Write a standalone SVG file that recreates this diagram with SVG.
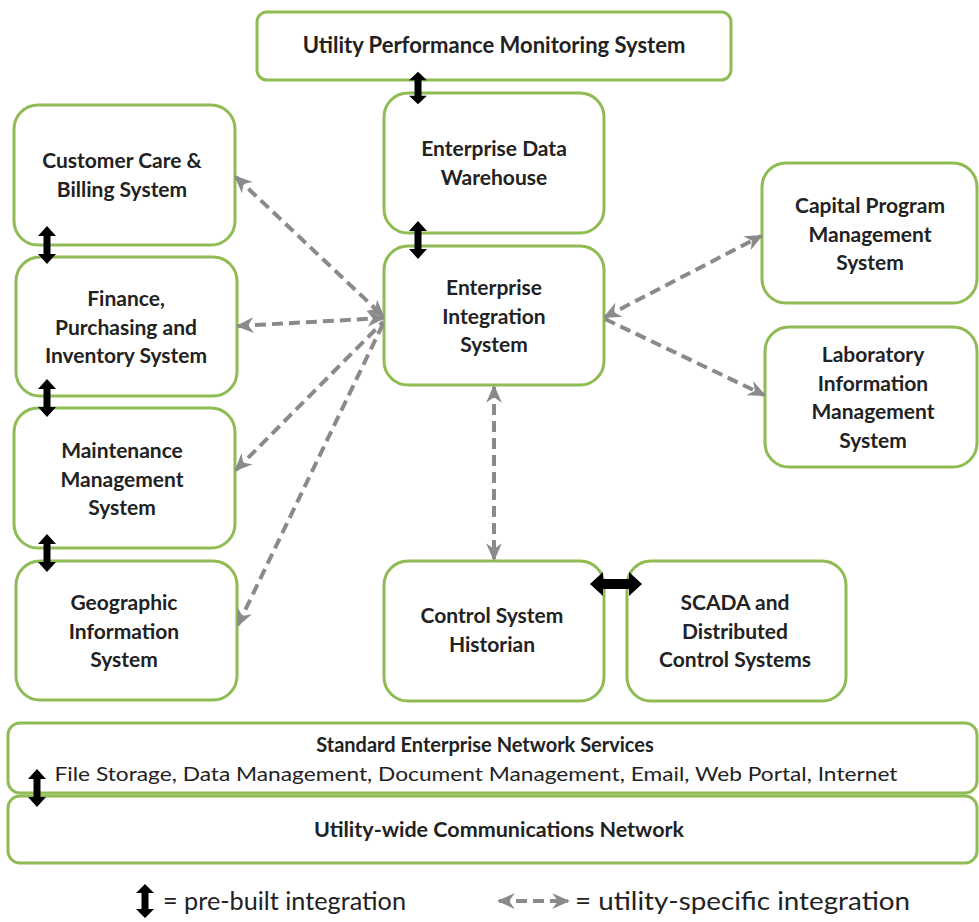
<svg xmlns="http://www.w3.org/2000/svg" width="979" height="922" viewBox="0 0 979 922">
  <style>
    .box { fill: #ffffff; stroke: #8fbc55; stroke-width: 3; }
    .lbl { font-family: Lato, "Liberation Sans", sans-serif; font-weight: bold; font-size: 21px; fill: #222222; text-anchor: middle; }
    .sub { font-family: Lato, "Liberation Sans", sans-serif; font-size: 20px; fill: #222222; text-anchor: middle; }
    .leg { font-family: Lato, "Liberation Sans", sans-serif; font-size: 25px; fill: #222222; }
    .dash { fill: none; stroke: #8a8a8a; stroke-width: 4; stroke-dasharray: 11 6; }
    .pb { fill: #000000; }
  </style>
  <defs>
    <marker id="gh" viewBox="0 0 16 16" refX="14" refY="8" markerWidth="18" markerHeight="18" markerUnits="userSpaceOnUse" orient="auto-start-reverse">
      <path d="M0,1 L16,8 L0,15 L5,8 z" fill="#8a8a8a"/>
    </marker>
    <!-- short vertical double-headed arrow for pre-built links -->
    <path id="pbv" d="M0,-19 L9,-9 L3.5,-9 L3.5,9 L9,9 L0,19 L-9,9 L-3.5,9 L-3.5,-9 L-9,-9 z"/>
  </defs>

  <!-- nodes -->
  <g id="upms">
    <rect class="box" x="257" y="12" width="474" height="68" rx="10"/>
    <text class="lbl" x="494" y="53" style="font-size:22px">Utility Performance Monitoring System</text>
  </g>
  <g id="edw">
    <rect class="box" x="384" y="93" width="220" height="140" rx="24"/>
    <text class="lbl" x="494" y="156">Enterprise Data</text>
    <text class="lbl" x="494" y="185">Warehouse</text>
  </g>
  <g id="eis">
    <rect class="box" x="384" y="246" width="220" height="139" rx="24"/>
    <text class="lbl" x="494" y="295">Enterprise</text>
    <text class="lbl" x="494" y="324">Integration</text>
    <text class="lbl" x="494" y="352">System</text>
  </g>
  <g id="ccb">
    <rect class="box" x="14" y="105" width="221" height="140" rx="24"/>
    <text class="lbl" x="122" y="168">Customer Care &amp;</text>
    <text class="lbl" x="122" y="197">Billing System</text>
  </g>
  <g id="fpi">
    <rect class="box" x="16" y="257" width="221" height="139" rx="24"/>
    <text class="lbl" x="126" y="306">Finance,</text>
    <text class="lbl" x="126" y="335">Purchasing and</text>
    <text class="lbl" x="126" y="363">Inventory System</text>
  </g>
  <g id="mms">
    <rect class="box" x="14" y="408" width="221" height="140" rx="24"/>
    <text class="lbl" x="122" y="458">Maintenance</text>
    <text class="lbl" x="122" y="487">Management</text>
    <text class="lbl" x="122" y="515">System</text>
  </g>
  <g id="gis">
    <rect class="box" x="16" y="561" width="221" height="139" rx="24"/>
    <text class="lbl" x="124" y="610">Geographic</text>
    <text class="lbl" x="124" y="639">Information</text>
    <text class="lbl" x="124" y="667">System</text>
  </g>
  <g id="cpm">
    <rect class="box" x="762" y="163" width="215" height="140" rx="24"/>
    <text class="lbl" x="870" y="213">Capital Program</text>
    <text class="lbl" x="870" y="242">Management</text>
    <text class="lbl" x="870" y="270">System</text>
  </g>
  <g id="lims">
    <rect class="box" x="765" y="327" width="212" height="140" rx="24"/>
    <text class="lbl" x="873" y="362">Laboratory</text>
    <text class="lbl" x="873" y="391">Information</text>
    <text class="lbl" x="873" y="419">Management</text>
    <text class="lbl" x="873" y="448">System</text>
  </g>
  <g id="csh">
    <rect class="box" x="384" y="561" width="220" height="140" rx="24"/>
    <text class="lbl" x="492" y="623">Control System</text>
    <text class="lbl" x="492" y="652">Historian</text>
  </g>
  <g id="scada">
    <rect class="box" x="627" y="561" width="219" height="140" rx="24"/>
    <text class="lbl" x="735" y="610">SCADA and</text>
    <text class="lbl" x="735" y="639">Distributed</text>
    <text class="lbl" x="735" y="667">Control Systems</text>
  </g>
  <g id="sens">
    <rect class="box" x="8" y="723" width="969" height="70" rx="12"/>
    <text class="lbl" x="485" y="752" style="font-size:20px">Standard Enterprise Network Services</text>
    <text class="sub" x="476" y="781" textLength="843" lengthAdjust="spacingAndGlyphs">File Storage, Data Management, Document Management, Email, Web Portal, Internet</text>
  </g>
  <g id="ucn">
    <rect class="box" x="8" y="796" width="969" height="67" rx="12"/>
    <text class="lbl" x="499" y="837" style="font-size:21.5px">Utility-wide Communications Network</text>
  </g>

  <!-- connectors -->
  <g id="connectors">
    <!-- utility-specific (dashed, grey) -->
    <line class="dash" x1="236" y1="177" x2="383" y2="316" marker-start="url(#gh)" marker-end="url(#gh)"/>
    <line class="dash" x1="238" y1="326" x2="383" y2="318" marker-start="url(#gh)" marker-end="url(#gh)"/>
    <line class="dash" x1="236" y1="470" x2="383" y2="322" marker-start="url(#gh)"/>
    <line class="dash" x1="238" y1="625" x2="383" y2="324" marker-start="url(#gh)"/>
    <line class="dash" x1="605" y1="317" x2="761" y2="236" marker-start="url(#gh)" marker-end="url(#gh)"/>
    <line class="dash" x1="605" y1="319" x2="764" y2="395" marker-end="url(#gh)"/>
    <line class="dash" x1="494" y1="387" x2="494" y2="559" marker-start="url(#gh)" marker-end="url(#gh)"/>

    <!-- pre-built (solid, black) -->
    <use href="#pbv" class="pb" transform="translate(418,88) scale(1,0.85)"/>
    <use href="#pbv" class="pb" transform="translate(418,240)"/>
    <use href="#pbv" class="pb" transform="translate(47,245)"/>
    <use href="#pbv" class="pb" transform="translate(47,398)"/>
    <use href="#pbv" class="pb" transform="translate(47,553)"/>
    <use href="#pbv" class="pb" transform="translate(37,788)"/>
    <path class="pb" d="M590,584 L603,572 L603,579 L629,579 L629,572 L642,584 L629,596 L629,589 L603,589 L603,596 z"/>
  </g>

  <!-- legend -->
  <g id="legend">
    <use href="#pbv" class="pb" transform="translate(145,901) scale(1,0.9)"/>
    <text class="leg" x="163" y="910" textLength="243" lengthAdjust="spacingAndGlyphs">= pre-built integration</text>
    <line class="dash" x1="499" y1="901" x2="568" y2="901" stroke-dasharray="9 5" marker-start="url(#gh)" marker-end="url(#gh)"/>
    <text class="leg" x="575" y="910" textLength="335" lengthAdjust="spacingAndGlyphs">= utility-specific integration</text>
  </g>
</svg>
